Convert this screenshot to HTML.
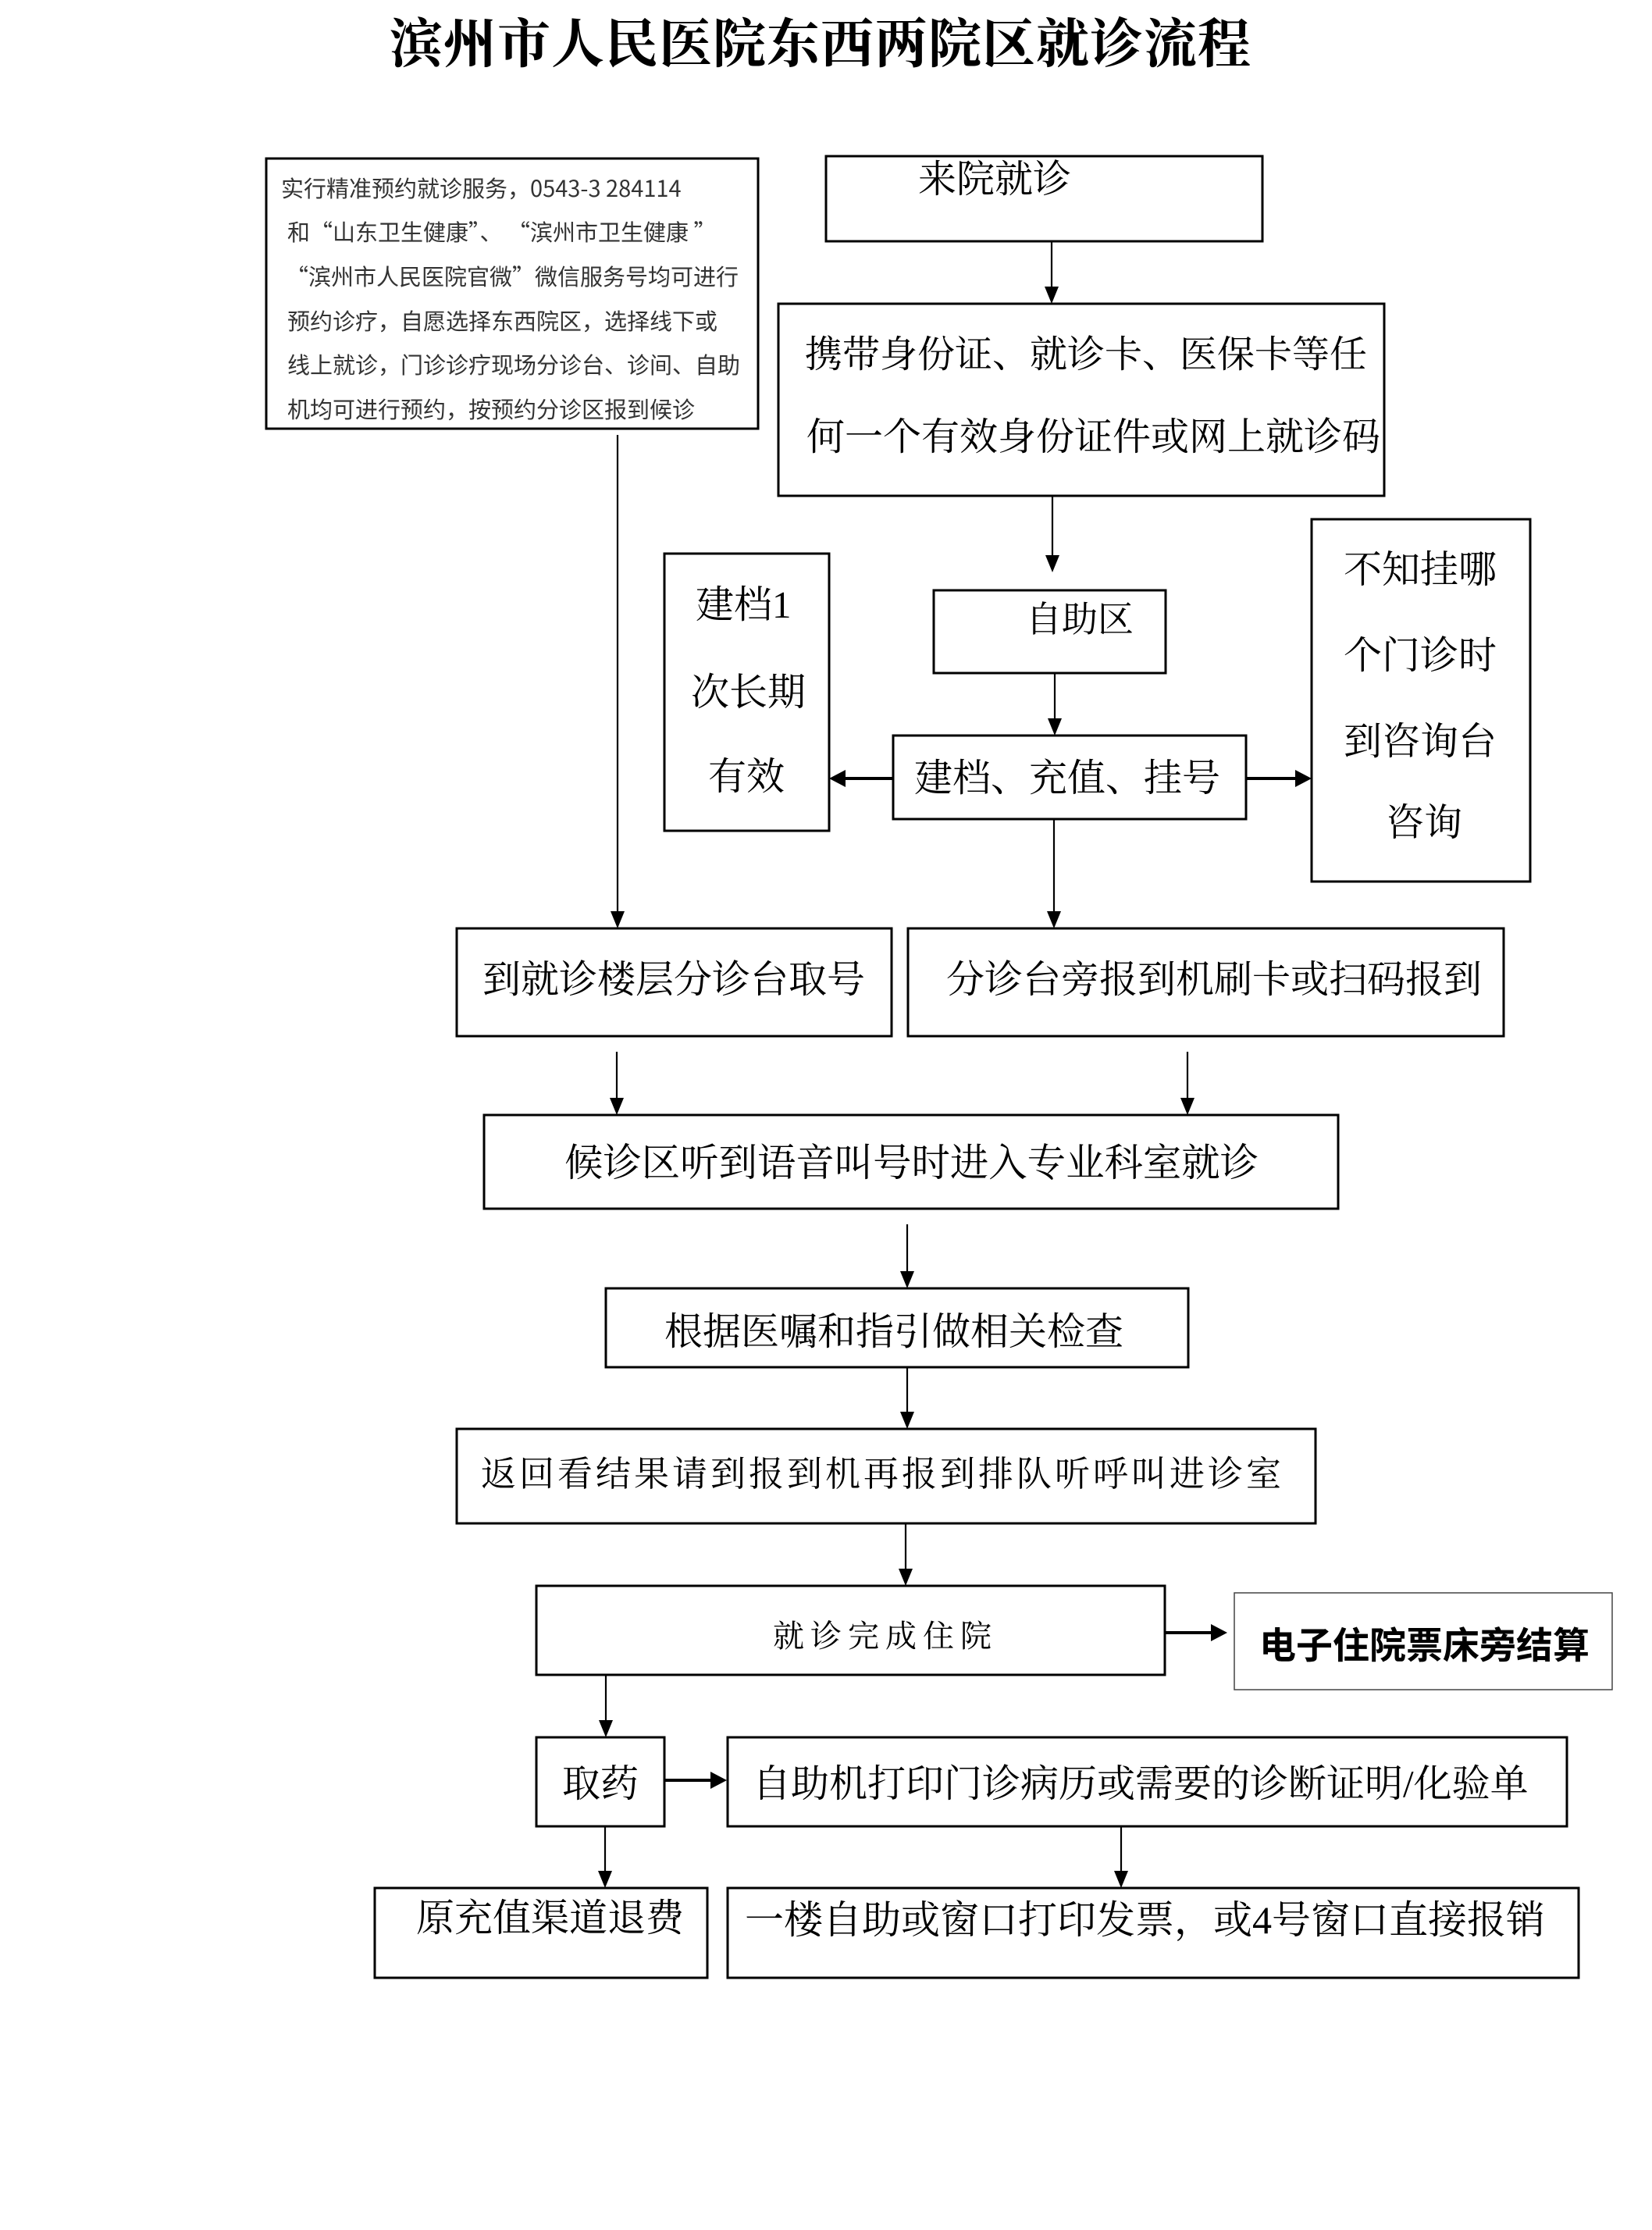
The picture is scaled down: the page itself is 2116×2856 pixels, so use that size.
<!DOCTYPE html>
<html lang="zh-CN">
<head>
<meta charset="utf-8">
<style>
  html, body { margin:0; padding:0; background:#fff; }
  body { width:2116px; height:2856px; position:relative; overflow:hidden; }
  svg { position:absolute; left:0; top:0; }
  .t { position:absolute; white-space:nowrap; line-height:60px; height:60px; margin-top:5px;
       font-family:"Liberation Serif","Noto Serif CJK SC",serif; color:#000; font-size:49px; }
  .s { position:absolute; white-space:nowrap; line-height:40px; height:40px;
       font-family:"Noto Sans CJK SC","Liberation Sans",sans-serif; color:#333; font-size:29px; }
</style>
</head>
<body>
<svg width="2116" height="2856" viewBox="0 0 2116 2856" xmlns="http://www.w3.org/2000/svg">
  <g fill="none" stroke="#000" stroke-width="3">
    <rect x="341" y="203" width="630" height="346"/>
    <rect x="1058" y="200" width="559" height="109"/>
    <rect x="997" y="389" width="776" height="246"/>
    <rect x="851" y="709" width="211" height="355"/>
    <rect x="1196" y="756" width="297" height="106"/>
    <rect x="1144" y="942" width="452" height="107"/>
    <rect x="1680" y="665" width="280" height="464"/>
    <rect x="585" y="1189" width="557" height="138"/>
    <rect x="1163" y="1189" width="763" height="138"/>
    <rect x="620" y="1428" width="1094" height="120"/>
    <rect x="776" y="1650" width="746" height="101"/>
    <rect x="585" y="1830" width="1100" height="121"/>
    <rect x="687" y="2031" width="805" height="114"/>
    <rect x="687" y="2225" width="164" height="114"/>
    <rect x="932" y="2225" width="1075" height="114"/>
    <rect x="480" y="2418" width="426" height="115"/>
    <rect x="932" y="2418" width="1090" height="115"/>
  </g>
  <rect x="1581" y="2040" width="484" height="124" fill="none" stroke="#444" stroke-width="1.5"/>

  <!-- vertical connectors -->
  <g stroke="#000" stroke-width="2.2" fill="none">
    <line x1="1347" y1="309" x2="1347" y2="370"/>
    <line x1="1348" y1="635" x2="1348" y2="714"/>
    <line x1="1351" y1="862" x2="1351" y2="922"/>
    <line x1="1350" y1="1049" x2="1350" y2="1170"/>
    <line x1="791" y1="557" x2="791" y2="1170"/>
    <line x1="790" y1="1347" x2="790" y2="1409"/>
    <line x1="1521" y1="1347" x2="1521" y2="1409"/>
    <line x1="1162" y1="1568" x2="1162" y2="1631"/>
    <line x1="1162" y1="1751" x2="1162" y2="1811"/>
    <line x1="1160" y1="1951" x2="1160" y2="2012"/>
    <line x1="776" y1="2145" x2="776" y2="2206"/>
    <line x1="775" y1="2339" x2="775" y2="2399"/>
    <line x1="1436" y1="2339" x2="1436" y2="2399"/>
  </g>
  <g fill="#000">
    <polygon points="1338,367 1356,367 1347,389"/>
    <polygon points="1339,711 1357,711 1348,733"/>
    <polygon points="1342,920 1360,920 1351,942"/>
    <polygon points="1341,1167 1359,1167 1350,1189"/>
    <polygon points="782,1167 800,1167 791,1189"/>
    <polygon points="781,1406 799,1406 790,1428"/>
    <polygon points="1512,1406 1530,1406 1521,1428"/>
    <polygon points="1153,1628 1171,1628 1162,1650"/>
    <polygon points="1153,1808 1171,1808 1162,1830"/>
    <polygon points="1151,2009 1169,2009 1160,2031"/>
    <polygon points="767,2203 785,2203 776,2225"/>
    <polygon points="766,2396 784,2396 775,2418"/>
    <polygon points="1427,2396 1445,2396 1436,2418"/>
  </g>

  <!-- horizontal thick connectors -->
  <g stroke="#000" stroke-width="4" fill="none">
    <line x1="1144" y1="997" x2="1080" y2="997"/>
    <line x1="1596" y1="997" x2="1660" y2="997"/>
    <line x1="1492" y1="2091" x2="1552" y2="2091"/>
    <line x1="851" y1="2280" x2="912" y2="2280"/>
  </g>
  <g fill="#000">
    <polygon points="1062,997 1083,986 1083,1008"/>
    <polygon points="1680,997 1659,986 1659,1008"/>
    <polygon points="1572,2091 1551,2080 1551,2102"/>
    <polygon points="931,2280 910,2269 910,2291"/>
  </g>
</svg>

<!-- Title -->
<div class="t" style="left:499px;top:22px;margin-top:0;font-size:68px;letter-spacing:1px;font-weight:bold;line-height:70px;height:70px;">滨州市人民医院东西两院区就诊流程</div>

<!-- Left info box -->
<div class="s" style="left:360px;top:220px;">实行精准预约就诊服务，0543-3 284114</div>
<div class="s" style="left:368px;top:276px;">和“山东卫生健康”、 “滨州市卫生健康 ”</div>
<div class="s" style="left:366px;top:333px;">“滨州市人民医院官微”微信服务号均可进行</div>
<div class="s" style="left:368px;top:390px;">预约诊疗，自愿选择东西院区，选择线下或</div>
<div class="s" style="left:368px;top:446px;">线上就诊，门诊诊疗现场分诊台、诊间、自助</div>
<div class="s" style="left:368px;top:503px;">机均可进行预约，按预约分诊区报到候诊</div>

<!-- Boxes text -->
<div class="t" style="left:1176px;top:195px;">来院就诊</div>
<div class="t" style="left:1031px;top:420px;font-size:48px;">携带身份证、就诊卡、医保卡等任</div>
<div class="t" style="left:1033px;top:525px;">何一个有效身份证件或网上就诊码</div>

<div class="t" style="left:891px;top:740px;">建档1</div>
<div class="t" style="left:885px;top:852px;">次长期</div>
<div class="t" style="left:907px;top:960px;">有效</div>

<div class="t" style="left:1314px;top:759px;font-size:46px;">自助区</div>
<div class="t" style="left:1171px;top:962px;">建档、充值、挂号</div>

<div class="t" style="left:1721px;top:695px;">不知挂哪</div>
<div class="t" style="left:1721px;top:805px;">个门诊时</div>
<div class="t" style="left:1721px;top:915px;">到咨询台</div>
<div class="t" style="left:1775px;top:1019px;">咨询</div>

<div class="t" style="left:618px;top:1220px;">到就诊楼层分诊台取号</div>
<div class="t" style="left:1212px;top:1220px;">分诊台旁报到机刷卡或扫码报到</div>

<div class="t" style="left:723px;top:1455px;font-size:49.4px;">候诊区听到语音叫号时进入专业科室就诊</div>
<div class="t" style="left:851px;top:1671px;">根据医嘱和指引做相关检查</div>
<div class="t" style="left:616px;top:1853px;font-size:45px;letter-spacing:4px;">返回看结果请到报到机再报到排队听呼叫进诊室</div>
<div class="t" style="left:990px;top:2061px;font-size:40px;letter-spacing:8px;">就诊完成住院</div>
<div class="t" style="left:1613px;top:2074px;margin-top:0;font-size:47px;font-weight:bold;font-family:'Noto Sans CJK SC','Liberation Sans',sans-serif;">电子住院票床旁结算</div>

<div class="t" style="left:720px;top:2250px;">取药</div>
<div class="t" style="left:964px;top:2250px;">自助机打印门诊病历或需要的诊断证明/化验单</div>
<div class="t" style="left:533px;top:2422px;">原充值渠道退费</div>
<div class="t" style="left:954px;top:2424px;font-size:50px;">一楼自助或窗口打印发票，或4号窗口直接报销</div>
</body>
</html>
